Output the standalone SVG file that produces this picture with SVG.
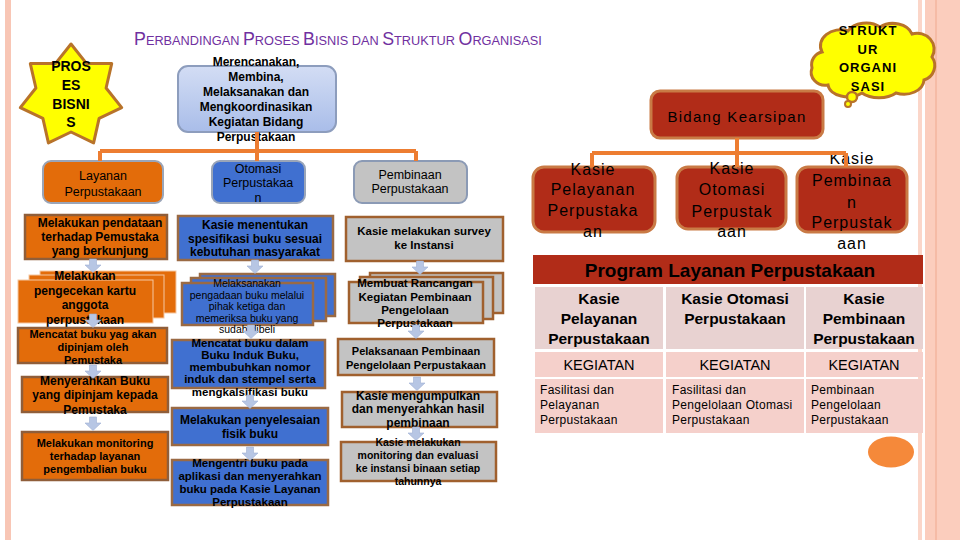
<svg xmlns="http://www.w3.org/2000/svg" width="960" height="540" viewBox="0 0 960 540">
<defs>
<linearGradient id="gTop" x1="0" y1="0" x2="0" y2="1"><stop offset="0" stop-color="#d3ddf4"/><stop offset="1" stop-color="#a9bde9"/></linearGradient>
<path id="arr" d="M-3.5,0 h7 v6 h4.5 l-8,7.5 l-8,-7.5 h4.5 z"/>
</defs>
<style>
.f{font-family:"Liberation Sans",Arial,Helvetica,sans-serif;text-anchor:middle;fill:#000}
.l{text-anchor:start}
.bd{font-weight:bold}
.s10{font-size:10.5px}.s11{font-size:11px}.s115{font-size:11.5px}.s12{font-size:12px}.s125{font-size:12.5px}
.s13{font-size:13px}.s14{font-size:14px}.s15{font-size:15px}.s16{font-size:16px}
.ttl{font-family:"Liberation Sans",Arial,sans-serif;fill:#7030a0;font-size:12.75px}
.cap{font-size:17.8px}
.or{fill:#e36c0a;stroke:#8f5e3a;stroke-width:2.5}
.orS{fill:#e36c0a;stroke:#f5c7a2;stroke-width:1}
.bl{fill:#4070d0;stroke:#9a6a44;stroke-width:2.5}
.gr{fill:#c3c3c3;stroke:#a0602e;stroke-width:2.5}
.kr{fill:#b12c18;stroke:#c97a45;stroke-width:3}
.arr{fill:#b7c6e4;stroke:#9fb0d3;stroke-width:.6}
.con{stroke:#ed7d31;stroke-width:4;fill:none}
.th{fill:#e8d2d1}.tb{fill:#f5d0cb}
</style>
<rect width="960" height="540" fill="#fff"/>
<g id="background">
<rect x="5" y="0" width="6" height="540" fill="#f8c6b5"/>
<rect x="918" y="0" width="4" height="540" fill="#fbd6c9"/>
<rect x="925" y="0" width="35" height="540" fill="#fbcdbd"/>
<line x1="936" y1="0" x2="936" y2="540" stroke="#f3b59f" stroke-width="1.5"/>
<ellipse cx="891" cy="452" rx="23" ry="15.5" fill="#f5893a"/>
</g>
<text id="title" class="ttl" x="134" y="45"><tspan class="cap">P</tspan>ERBANDINGAN <tspan class="cap">P</tspan>ROSES <tspan class="cap">B</tspan>ISNIS DAN <tspan class="cap">S</tspan>TRUKTUR <tspan class="cap">O</tspan>RGANISASI</text>

<g id="star-proses-bisnis">
<path d="M71,44 L86.6,63.6 L111.7,63.6 L106.1,88 L121.7,107.6 L99.1,118.4 L93.6,142.9 L71,132 L48.4,142.9 L42.9,118.4 L20.3,107.6 L35.9,88 L30.3,63.6 L55.4,63.6 Z" fill="#ffff00" stroke="#b8732a" stroke-width="3" stroke-linejoin="round"/>
<text class="f bd s14"><tspan x="71" y="71">PROS</tspan><tspan x="71" y="90">ES</tspan><tspan x="71" y="109">BISNI</tspan><tspan x="71" y="127">S</tspan></text>
</g>

<g id="node-bidang">
<rect x="178" y="66" width="158" height="66" rx="10" fill="url(#gTop)" stroke="#8d9dbd" stroke-width="2"/>
<text class="f bd s12"><tspan x="256" y="65.5">Merencanakan,</tspan><tspan x="256" y="81">Membina,</tspan><tspan x="256" y="96">Melaksanakan dan</tspan><tspan x="256" y="111">Mengkoordinasikan</tspan><tspan x="256" y="126">Kegiatan Bidang</tspan><tspan x="256" y="141">Perpustakaan</tspan></text>
</g>

<g id="node-layanan">
<rect x="43" y="161" width="120" height="42" rx="8" fill="#e36c0a" stroke="#9aa5b8" stroke-width="2"/>
<text class="f s125"><tspan x="103" y="179.5">Layanan</tspan><tspan x="103" y="195.5">Perpustakaan</tspan></text>
</g>
<g id="node-otomasi">
<rect x="212" y="161" width="93" height="42" rx="8" fill="#4070d0" stroke="#9aa5b8" stroke-width="2"/>
<text class="f s125"><tspan x="258" y="172.5">Otomasi</tspan><tspan x="258" y="186.5">Perpustakaa</tspan><tspan x="258" y="201.5">n</tspan></text>
</g>
<g id="node-pembinaan">
<rect x="354" y="161" width="113" height="42" rx="8" fill="#c3c3c3" stroke="#8b9ab5" stroke-width="2"/>
<text class="f s125"><tspan x="410" y="179">Pembinaan</tspan><tspan x="410" y="193">Perpustakaan</tspan></text>
</g>

<g id="node-l1">
<rect class="or" x="25" y="215" width="142" height="44"/>
<text class="f bd s12"><tspan x="100" y="227">Melakukan pendataan</tspan><tspan x="100" y="241">terhadap Pemustaka</tspan><tspan x="100" y="255">yang berkunjung</tspan></text>
</g>
<g id="node-l2">
<rect class="orS" x="40" y="271" width="136" height="42"/>
<rect class="orS" x="29" y="275" width="135" height="43"/>
<rect class="orS" x="18" y="280" width="135" height="43"/>
<text class="f bd s12"><tspan x="85" y="280">Melakukan</tspan><tspan x="85" y="295">pengecekan kartu</tspan><tspan x="85" y="309">anggota</tspan><tspan x="85" y="324">perpustakaan</tspan></text>
</g>
<g id="node-l3">
<rect class="or" x="18" y="328" width="149" height="35"/>
<text class="f bd s11"><tspan x="93" y="338">Mencatat  buku yag akan</tspan><tspan x="93" y="351">dipinjam oleh</tspan><tspan x="93" y="364">Pemustaka</tspan></text>
</g>
<g id="node-l4">
<rect class="or" x="22" y="377" width="146" height="35"/>
<text class="f bd s12"><tspan x="95" y="385">Menyerahkan Buku</tspan><tspan x="95" y="399">yang dipinjam kepada</tspan><tspan x="95" y="414">Pemustaka</tspan></text>
</g>
<g id="node-l5">
<rect class="or" x="22" y="432" width="146" height="48"/>
<text class="f bd s11"><tspan x="95" y="447">Melakukan monitoring</tspan><tspan x="95" y="460">terhadap layanan</tspan><tspan x="95" y="473">pengembalian buku</tspan></text>
</g>

<g id="node-m1">
<rect class="bl" x="178" y="216" width="155" height="44"/>
<text class="f bd s12"><tspan x="255" y="229">Kasie menentukan</tspan><tspan x="255" y="242.5">spesifikasi buku sesuai</tspan><tspan x="255" y="256">kebutuhan masyarakat</tspan></text>
</g>
<g id="node-m2">
<rect class="bl" x="200" y="274" width="135" height="42"/>
<rect class="bl" x="191" y="278" width="135" height="43"/>
<rect class="bl" x="182" y="283" width="131" height="42"/>
<text class="f s10"><tspan x="247" y="287">Melaksanakan</tspan><tspan x="247" y="298.5">pengadaan buku melalui</tspan><tspan x="247" y="310">pihak ketiga dan</tspan><tspan x="247" y="321.5">memeriksa buku yang</tspan><tspan x="247" y="333">sudah dibeli</tspan></text>
</g>
<g id="node-m3">
<rect class="bl" x="172" y="340" width="153" height="48"/>
<text class="f bd s115"><tspan x="250" y="346.5">Mencatat buku dalam</tspan><tspan x="250" y="358.5">Buku Induk Buku,</tspan><tspan x="250" y="371">membubuhkan nomor</tspan><tspan x="250" y="383">induk dan stempel serta</tspan><tspan x="250" y="396">mengkalsifikasi buku</tspan></text>
</g>
<g id="node-m4">
<rect class="bl" x="172" y="408" width="156" height="37"/>
<text class="f bd s12"><tspan x="250" y="424">Melakukan penyelesaian</tspan><tspan x="250" y="438">fisik buku</tspan></text>
</g>
<g id="node-m5">
<rect class="bl" x="172" y="460" width="156" height="45"/>
<text class="f bd s115"><tspan x="250" y="467">Mengentri buku pada</tspan><tspan x="250" y="480">aplikasi dan menyerahkan</tspan><tspan x="250" y="493">buku pada Kasie Layanan</tspan><tspan x="250" y="506">Perpustakaan</tspan></text>
</g>

<g id="node-r1">
<rect class="gr" x="346" y="217" width="157" height="44"/>
<text class="f bd s115"><tspan x="424" y="235">Kasie melakukan survey</tspan><tspan x="424" y="249">ke Instansi</tspan></text>
</g>
<g id="node-r2">
<rect class="gr" x="370" y="273" width="133" height="40"/>
<rect class="gr" x="360" y="277" width="133" height="42"/>
<rect class="gr" x="349" y="282" width="134" height="41"/>
<text class="f bd s115"><tspan x="415" y="287">Membuat Rancangan</tspan><tspan x="415" y="301">Kegiatan Pembinaan</tspan><tspan x="415" y="314">Pengelolaan</tspan><tspan x="415" y="327">Perpustakaan</tspan></text>
</g>
<g id="node-r3">
<rect class="gr" x="338" y="339" width="156" height="36"/>
<text class="f bd s11"><tspan x="416" y="355">Pelaksanaan Pembinaan</tspan><tspan x="416" y="369">Pengelolaan Perpustakaan</tspan></text>
</g>
<g id="node-r4">
<rect class="gr" x="342" y="392" width="155" height="35"/>
<text class="f bd s12"><tspan x="418" y="400">Kasie mengumpulkan</tspan><tspan x="418" y="413">dan menyerahkan hasil</tspan><tspan x="418" y="427">pembinaan</tspan></text>
</g>
<g id="node-r5">
<rect class="gr" x="341" y="442" width="155" height="39"/>
<text class="f bd s10"><tspan x="418" y="446">Kasie melakukan</tspan><tspan x="418" y="459">monitoring dan evaluasi</tspan><tspan x="418" y="472">ke instansi binaan setiap</tspan><tspan x="418" y="485">tahunnya</tspan></text>
</g>

<g id="cloud-struktur">
<path d="M822,52 A20,16 0 0 1 848,31 A20,14 0 0 1 880,27 A20,15 0 0 1 912,34 A17,16 0 0 1 932,57 A15,15 0 0 1 924,80 A20,15 0 0 1 896,93 A22,13 0 0 1 862,93 A20,13 0 0 1 828,85 A14,13 0 0 1 812,68 A13,13 0 0 1 822,52 Z" fill="#ffff00" stroke="#b8732a" stroke-width="3"/>
<circle cx="852" cy="97" r="5" fill="#ffff00" stroke="#b8732a" stroke-width="2.5"/>
<circle cx="848" cy="104" r="3" fill="#ffff00" stroke="#b8732a" stroke-width="2"/>
<text class="f bd s13" letter-spacing="1"><tspan x="868" y="35">STRUKT</tspan><tspan x="868" y="54">UR</tspan><tspan x="868" y="72">ORGANI</tspan><tspan x="868" y="91">SASI</tspan></text>
</g>

<g id="node-kearsipan">
<rect class="kr" x="651" y="91" width="172" height="47" rx="9"/>
<text class="f s15" x="737" y="122" letter-spacing="1.3">Bidang Kearsipan</text>
</g>
<g id="node-kasie-pelayanan">
<rect class="kr" x="533" y="167" width="122" height="65" rx="11"/>
<text class="f s16" letter-spacing="1"><tspan x="593" y="175">Kasie</tspan><tspan x="593" y="195">Pelayanan</tspan><tspan x="593" y="216">Perpustaka</tspan><tspan x="593" y="237">an</tspan></text>
</g>
<g id="node-kasie-otomasi">
<rect class="kr" x="677" y="167" width="109" height="62" rx="11"/>
<text class="f s16" letter-spacing="1"><tspan x="732" y="174">Kasie</tspan><tspan x="732" y="195">Otomasi</tspan><tspan x="732" y="217">Perpustak</tspan><tspan x="732" y="237">aan</tspan></text>
</g>
<g id="node-kasie-pembinaan">
<rect class="kr" x="797" y="167" width="110" height="65" rx="11"/>
<text class="f s16" letter-spacing="1"><tspan x="852" y="164">Kasie</tspan><tspan x="852" y="186">Pembinaa</tspan><tspan x="852" y="208">n</tspan><tspan x="852" y="228">Perpustak</tspan><tspan x="852" y="249">aan</tspan></text>
</g>

<g id="table-program">
<rect x="533" y="255" width="390" height="29" fill="#b12c18"/>
<text class="f bd" font-size="19" x="730" y="277">Program Layanan Perpustakaan</text>
<rect class="th" x="535" y="287" width="128" height="62"/>
<rect class="th" x="666" y="287" width="138" height="62"/>
<rect class="th" x="806" y="287" width="117" height="62"/>
<rect class="tb" x="535" y="352" width="128" height="25"/>
<rect class="tb" x="666" y="352" width="138" height="25"/>
<rect class="tb" x="806" y="352" width="117" height="25"/>
<rect class="tb" x="535" y="379" width="128" height="54"/>
<rect class="tb" x="666" y="379" width="138" height="54"/>
<rect class="tb" x="806" y="379" width="117" height="54"/>
<text class="f bd" font-size="15.5"><tspan x="599" y="304">Kasie</tspan><tspan x="599" y="324">Pelayanan</tspan><tspan x="599" y="344">Perpustakaan</tspan></text>
<text class="f bd" font-size="15.5"><tspan x="735" y="304">Kasie Otomasi</tspan><tspan x="735" y="324">Perpustakaan</tspan></text>
<text class="f bd" font-size="15.5"><tspan x="864" y="304">Kasie</tspan><tspan x="864" y="324">Pembinaan</tspan><tspan x="864" y="344">Perpustakaan</tspan></text>
<text class="f" font-size="14.5" fill="#222"><tspan x="599" y="370">KEGIATAN</tspan><tspan x="735" y="370">KEGIATAN</tspan><tspan x="864" y="370">KEGIATAN</tspan></text>
<text class="f l s12" letter-spacing="0.3" fill="#222"><tspan x="540" y="394">Fasilitasi dan</tspan><tspan x="540" y="409">Pelayanan</tspan><tspan x="540" y="424">Perpustakaan</tspan></text>
<text class="f l s12" letter-spacing="0.3" fill="#222"><tspan x="672" y="394">Fasilitasi dan</tspan><tspan x="672" y="409">Pengelolaan Otomasi</tspan><tspan x="672" y="424">Perpustakaan</tspan></text>
<text class="f l s12" letter-spacing="0.3" fill="#222"><tspan x="811" y="394">Pembinaan</tspan><tspan x="811" y="409">Pengelolaan</tspan><tspan x="811" y="424">Perpustakaan</tspan></text>
</g>

<g id="connectors">
<path class="con" d="M257,132 V161 M100,151 H416 M100,151 V161 M416,151 V161"/>
<path class="con" d="M737,138 V167 M592,153 H846 M592,153 V167 M846,153 V167"/>
<g class="arr">
<use href="#arr" x="93" y="259"/>
<use href="#arr" x="93" y="314"/>
<use href="#arr" x="93" y="365"/>
<use href="#arr" x="93" y="417"/>
<use href="#arr" x="255" y="260"/>
<use href="#arr" x="251" y="325"/>
<use href="#arr" x="250" y="395"/>
<use href="#arr" x="250" y="447"/>
<use href="#arr" x="420" y="261"/>
<use href="#arr" x="416" y="325"/>
<use href="#arr" x="417" y="377"/>
<use href="#arr" x="416" y="427"/>
</g>
</g>
</svg>
